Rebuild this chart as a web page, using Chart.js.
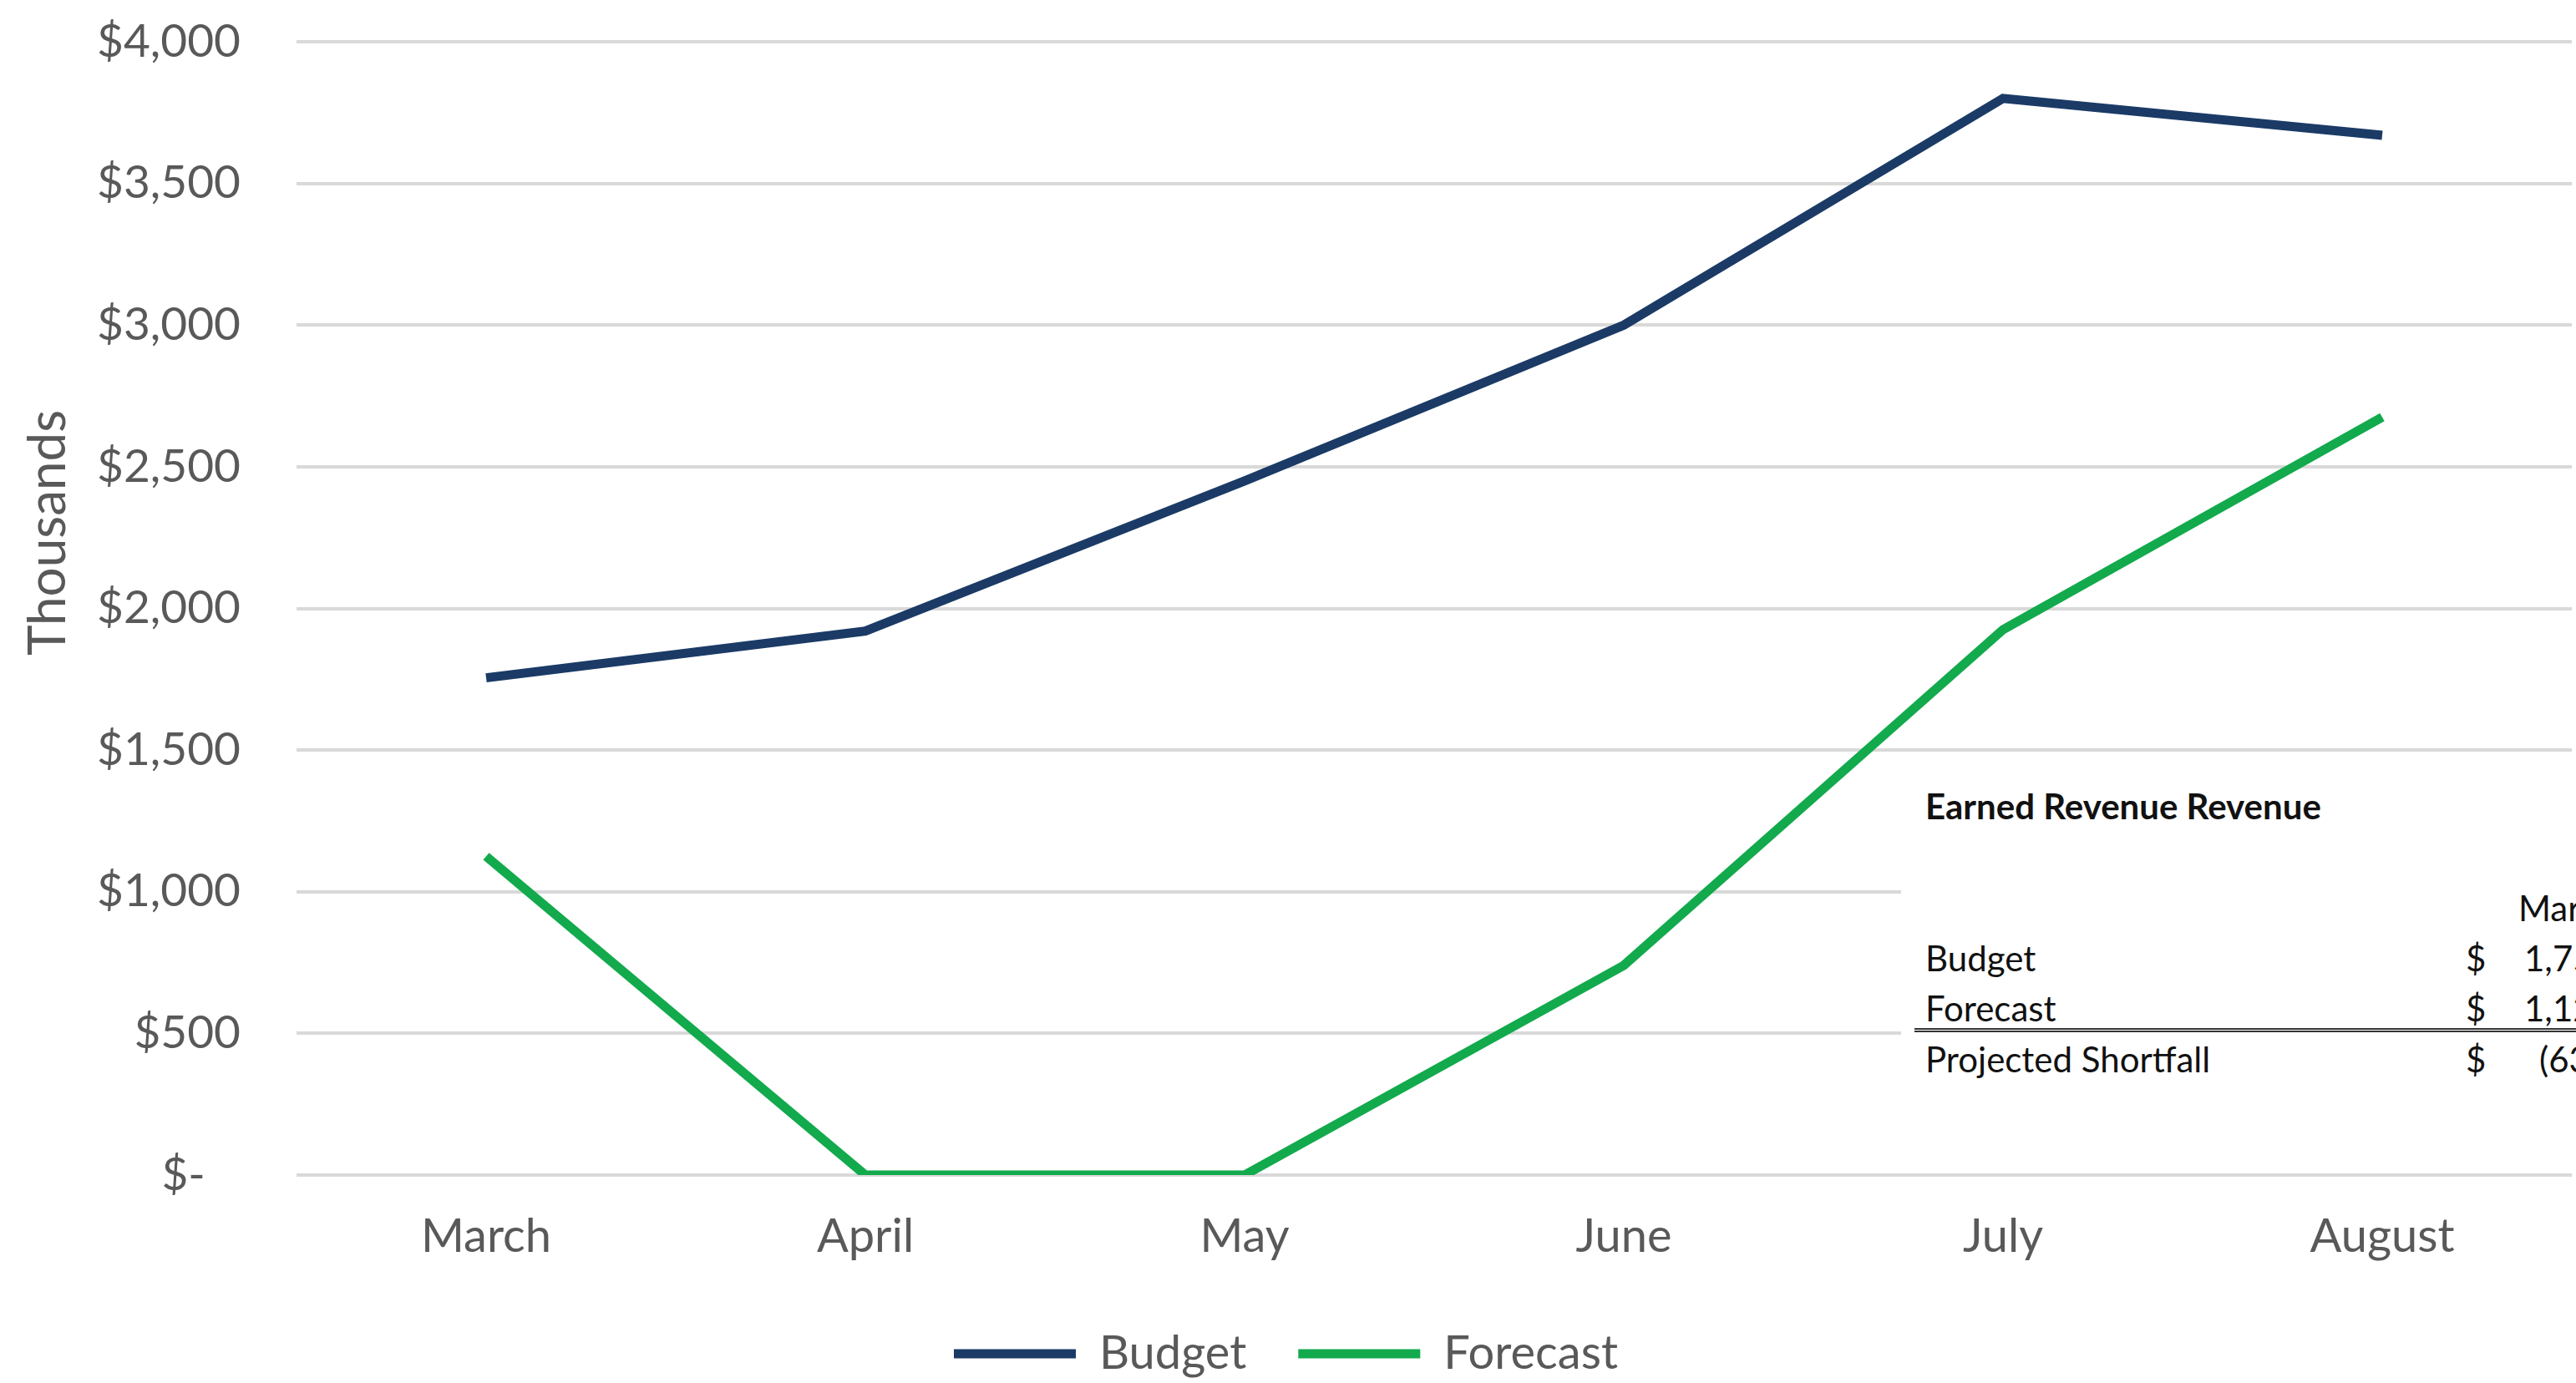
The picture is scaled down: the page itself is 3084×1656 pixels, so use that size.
<!DOCTYPE html>
<html lang="en">
<head>
<meta charset="UTF-8">
<title>Earned Revenue</title>
<script src="https://cdn.jsdelivr.net/npm/chart.js"></script>
<style>
  body { margin: 0; background: #fff; overflow: hidden; }
  #wrap { position: relative; width: 3084px; height: 1656px; }
  #summary { position: absolute; left: 2276px; top: 915px; width: 808px; height: 390px;
             background: #fff; overflow: hidden; font-family: Lato, sans-serif; font-size: 42px; color: #111; }
  #summary div { position: absolute; line-height: 50px; white-space: nowrap; }
  #summary .rule { left: 16px; right: 0; height: 0; border-top: 5px double #333; }
</style>
</head>
<body>
<div id="wrap">
  <canvas id="chart" width="3084" height="1656"></canvas>
  <div id="summary"></div>
</div>

<script>
// data (thousands of dollars)
const months = ['March', 'April', 'May', 'June', 'July', 'August'];
const budget = [1755, 1920, 2450, 3000, 3800, 3670];
const forecast = [1125, 0, 0, 740, 1925, 2675];
const yTickLabels = ['$-', '$500', '$1,000', '$1,500', '$2,000', '$2,500', '$3,000', '$3,500', '$4,000'];
const yTitle = 'Thousands';
const tableTitle = 'Earned Revenue Revenue';

const grey = '#595959';
Chart.defaults.font.family = 'Lato, sans-serif';

// y axis title sits above the middle of the axis, like in the original
const axisTitle = {
  id: 'axisTitle',
  afterDraw(chart) {
    const ctx = chart.ctx;
    ctx.save();
    ctx.translate(58, 638);
    ctx.rotate(-Math.PI / 2);
    ctx.font = '62px Lato, sans-serif';
    ctx.fillStyle = grey;
    ctx.textAlign = 'center';
    ctx.textBaseline = 'middle';
    ctx.fillText(yTitle, 0, 0);
    ctx.restore();
  }
};

new Chart(document.getElementById('chart'), {
  type: 'line',
  data: {
    labels: months,
    datasets: [
      { label: 'Budget', data: budget, borderColor: '#1B3B66', backgroundColor: '#1B3B66',
        borderWidth: 11, pointRadius: 0, tension: 0 },
      { label: 'Forecast', data: forecast, borderColor: '#12AA4C', backgroundColor: '#12AA4C',
        borderWidth: 11, pointRadius: 0, tension: 0 }
    ]
  },
  options: {
    responsive: false,
    animation: false,
    layout: { padding: { top: 50, right: 5, bottom: -3, left: 0 } },
    plugins: {
      tooltip: { enabled: false },
      legend: {
        position: 'bottom',
        labels: {
          boxWidth: 146,
          boxHeight: 11,
          padding: 62,
          color: grey,
          font: { size: 56 },
          generateLabels: (chart) => Chart.defaults.plugins.legend.labels.generateLabels(chart)
            .map(l => ({ ...l, fillStyle: l.strokeStyle, lineWidth: 0 }))
        }
      }
    },
    scales: {
      x: {
        offset: true,
        grid: { display: false },
        border: { display: false },
        ticks: { color: grey, font: { size: 56 }, padding: 32 },
        afterFit: (s) => { s.height = 124; }
      },
      y: {
        min: 0,
        max: 4000,
        // invisible tick marks give the gap between labels and grid
        grid: { color: '#D9D9D9', lineWidth: 4, drawTicks: true, tickLength: 67, tickColor: 'rgba(0,0,0,0)' },
        border: { display: false },
        ticks: {
          stepSize: 500,
          padding: 0,
          color: grey,
          font: { size: 55 },
          callback: (v, i) => i === 0 ? yTickLabels[i] + '   ' : yTickLabels[i]
        },
        afterFit: (s) => { s.width = 355; }
      }
    }
  },
  plugins: [axisTitle]
});

// the small summary table pasted over the chart
function fmt(v) {
  const s = Math.abs(v).toLocaleString('en-US');
  return v < 0 ? '(' + s + ')' : s;
}
const shortfall = forecast[0] - budget[0];
const box = document.getElementById('summary');
box.innerHTML =
  '<div style="left:29px;top:25px;font-weight:700">' + tableTitle + '</div>' +
  '<div style="left:739px;top:147px">' + months[0] + '</div>' +
  '<div style="left:29px;top:207px">Budget</div>' +
  '<div style="left:676px;top:207px">$</div>' +
  '<div style="left:746px;top:207px">' + fmt(budget[0]) + '</div>' +
  '<div style="left:29px;top:267px">Forecast</div>' +
  '<div style="left:676px;top:267px">$</div>' +
  '<div style="left:746px;top:267px">' + fmt(forecast[0]) + '</div>' +
  '<div class="rule" style="top:316px"></div>' +
  '<div style="left:29px;top:328px">Projected Shortfall</div>' +
  '<div style="left:676px;top:328px">$</div>' +
  '<div style="left:764px;top:328px">' + fmt(shortfall) + '</div>';
</script>
</body>
</html>
